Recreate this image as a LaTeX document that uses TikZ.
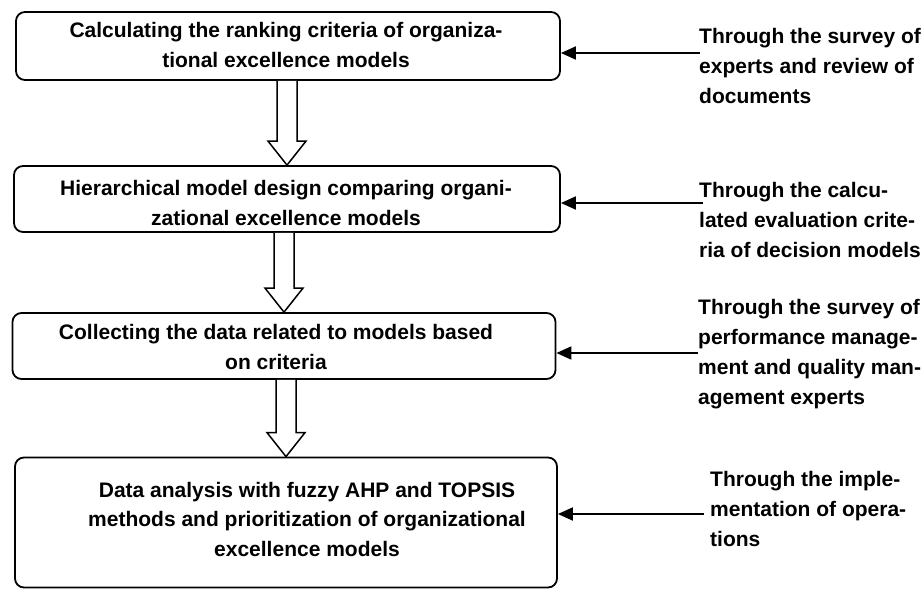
\documentclass[tikz,border=0pt]{standalone}
\usepackage{fontspec}
\setmainfont{Liberation Sans}
\usetikzlibrary{calc,arrows.meta}
\tikzset{
  box/.style={draw, line width=1.8pt, rounded corners=9pt, inner sep=0pt},
  btext/.style={font=\bfseries\fontsize{21}{29.5}\selectfont, align=center, inner sep=0pt},
  rtext/.style={font=\bfseries\fontsize{21}{30}\selectfont, align=left, anchor=west, inner sep=0pt},
  conn/.style={line width=1.9pt, -{Triangle[length=15pt,width=13pt]}},
  hollowarrow/.style={draw, line width=1.5pt, fill=white, line join=miter}
}
\newcommand{\hollowarr}[3]{%
  \coordinate (#3s) at (#1.south -| #2.north);
  \draw[hollowarrow] ($(#3s)+(-10,0)$) -- ($(#2.north)+(-10,-24)$) -- ($(#2.north)+(-19,-24)$)
    -- (#2.north) -- ($(#2.north)+(19,-24)$) -- ($(#2.north)+(10,-24)$) -- ($(#3s)+(10,0)$);}
\begin{document}
\begin{tikzpicture}[x=1pt,y=-1pt]
\useasboundingbox (0,0) rectangle (924,590);
% boxes
\node[box, minimum width=544pt, minimum height=68pt] (b1) at (288,46) {};
\node[box, minimum width=546pt, minimum height=66pt] (b2) at (287,199) {};
\node[box, minimum width=543pt, minimum height=66pt] (b3) at (284,346) {};
\node[box, minimum width=542pt, minimum height=130pt] (b4) at (286,522.5) {};
% box texts
\node[btext] (t1) at (286,45) {Calculating the ranking criteria of organiza-\\tional excellence models};
\node[btext] (t2) at (286,203) {Hierarchical model design comparing organi-\\zational excellence models};
\node[btext] (t3) at (276,347) {Collecting the data related to models based\\on criteria};
\node[btext] (t4) at (307,519) {Data analysis with fuzzy AHP and TOPSIS\\methods and prioritization of organizational\\excellence models};
% hollow arrows
\hollowarr{b1}{b2}{h1}
\hollowarr{b2}{b3}{h2}
\hollowarr{b3}{b4}{h3}
% right texts
\node[rtext] (r1) at (699,66) {Through the survey of\\experts and review of\\documents};
\node[rtext] (r2) at (699,220) {Through the calcu-\\lated evaluation crite-\\ria of decision models};
\node[rtext] (r3) at (698,354) {Through the survey of\\performance manage-\\ment and quality man-\\agement experts};
\node[rtext] (r4) at (710,509) {Through the imple-\\mentation of opera-\\tions};
% connector start points
\coordinate (c1) at (700,53);
\coordinate (c2) at (703,203);
\coordinate (c3) at (698,353);
\coordinate (c4) at (704,514);
\draw[conn] (c1) -- (c1 -| b1.east);
\draw[conn] (c2) -- (c2 -| b2.east);
\draw[conn] (c3) -- (c3 -| b3.east);
\draw[conn] (c4) -- (c4 -| b4.east);
\end{tikzpicture}
\end{document}
